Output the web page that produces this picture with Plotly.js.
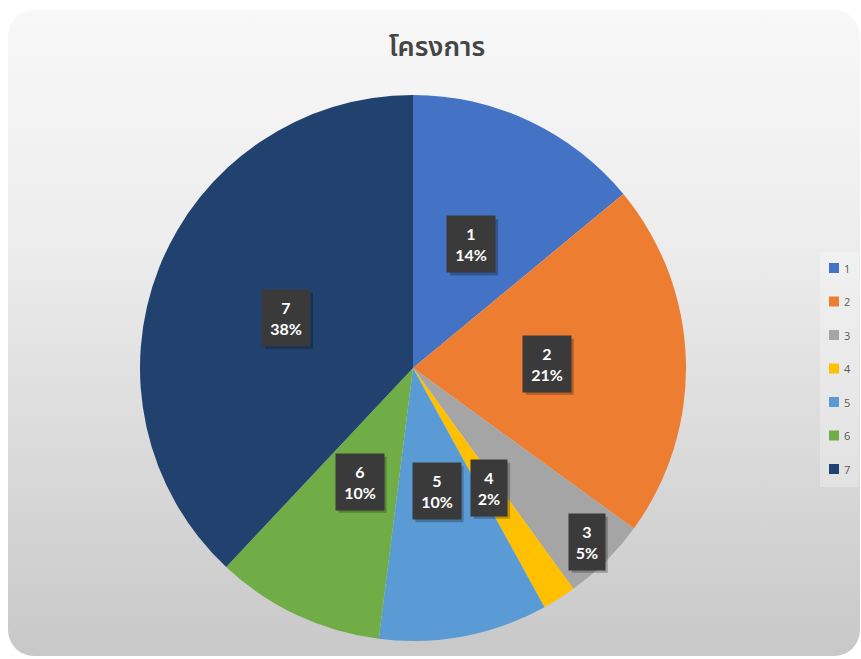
<!DOCTYPE html>
<html>
<head>
<meta charset="utf-8">
<script src="https://cdn.plot.ly/plotly-3.0.1.min.js"></script>
<style>
  html, body { margin: 0; padding: 0; background: #ffffff; width: 861px; height: 659px; overflow: hidden; }
  #frame { position: absolute; left: 8px; top: 10px; width: 852px; height: 646px; border-radius: 26px;
           background: linear-gradient(180deg, #f8f8f8 0%, #ededed 35%, #d9d9d9 70%, #c8c8c8 100%); }
  #chart { position: absolute; left: 0; top: 0; width: 861px; height: 659px; }
</style>
</head>
<body>
<div id="frame"></div>
<div id="chart"></div>
<script>
// ---- data ----
const chartTitle = "โครงการ";
const categories = ["1", "2", "3", "4", "5", "6", "7"];
const values = [14, 21, 5, 2, 10, 10, 38];
const colors = ["#4472C4", "#ED7D31", "#A5A5A5", "#FFC000", "#5B9BD5", "#70AD47", "#21416F"];

// ---- layout geometry ----
const W = 861, H = 659;
const pieDomain = { x: [140 / W, 686 / W], y: [1 - 641 / H, 1 - 95 / H] };
const labelRadius = [0.5, 0.49, 0.9, 0.52, 0.46, 0.46, 0.5];
const boxH = 56;

const cx = (pieDomain.x[0] + pieDomain.x[1]) / 2 * W;
const cy = (1 - (pieDomain.y[0] + pieDomain.y[1]) / 2) * H;
const R = Math.min((pieDomain.x[1] - pieDomain.x[0]) * W, (pieDomain.y[1] - pieDomain.y[0]) * H) / 2;

const total = values.reduce((a, b) => a + b, 0);
const annotations = [];
const shapes = [];
let cum = 0;
values.forEach((v, i) => {
  const mid = (cum + v / 2) / total;
  cum += v;
  const th = mid * 2 * Math.PI;
  const r = R * labelRadius[i];
  const px = cx + r * Math.sin(th);
  const py = cy - r * Math.cos(th);
  const pct = Math.round(v / total * 100) + "%";
  const txt = categories[i] + "<br>" + pct;
  const boxW = 12 + 12 * pct.length;
  // shadow
  shapes.push({
    type: "rect", xref: "paper", yref: "paper",
    x0: (px - boxW / 2 + 3) / W, x1: (px + boxW / 2 + 3) / W,
    y0: 1 - (py + boxH / 2 + 3) / H, y1: 1 - (py - boxH / 2 + 3) / H,
    fillcolor: "rgba(0,0,0,0.25)", line: { width: 0 }
  });
  annotations.push({
    xref: "paper", yref: "paper", x: px / W, y: 1 - py / H,
    text: txt, showarrow: false, xanchor: "center", yanchor: "middle",
    width: boxW, height: boxH,
    font: { family: "Lato, 'Open Sans', sans-serif", size: 16, color: "#ffffff", weight: "bold" },
    bgcolor: "#3a3a3a", borderpad: 0
  });
});

// ---- custom legend ----
const legX = 829, legTop = 268, legStep = 33.5, sw = 10;
shapes.push({
  type: "rect", xref: "paper", yref: "paper",
  x0: 820 / W, x1: 859 / W, y0: 1 - 487 / H, y1: 1 - 252 / H,
  fillcolor: "rgba(255,255,255,0.28)", line: { width: 0 }, layer: "below"
});
categories.forEach((c, i) => {
  const yc = legTop + i * legStep;
  shapes.push({
    type: "rect", xref: "paper", yref: "paper",
    x0: legX / W, x1: (legX + sw) / W, y0: 1 - (yc + sw / 2) / H, y1: 1 - (yc - sw / 2) / H,
    fillcolor: colors[i], line: { width: 0 }
  });
  annotations.push({
    xref: "paper", yref: "paper", x: (legX + sw + 3) / W, y: 1 - yc / H,
    text: c, showarrow: false, xanchor: "left", yanchor: "middle",
    font: { family: "'Open Sans', sans-serif", size: 11, color: "#595959" }
  });
});

const trace = {
  type: "pie",
  labels: categories,
  values: values,
  marker: { colors: colors, line: { width: 0 } },
  sort: false,
  direction: "clockwise",
  rotation: 0,
  textinfo: "none",
  hoverinfo: "label+percent",
  domain: pieDomain,
  showlegend: false
};

const layout = {
  width: W, height: H,
  margin: { l: 0, r: 0, t: 0, b: 0 },
  paper_bgcolor: "rgba(0,0,0,0)",
  plot_bgcolor: "rgba(0,0,0,0)",
  showlegend: false,
  title: {
    text: chartTitle,
    x: 437 / W, xref: "paper", xanchor: "center",
    y: 1 - 47 / H, yref: "container", yanchor: "middle",
    font: { family: "'Noto Sans Thai', 'Noto Sans', 'Loma', 'Garuda', sans-serif", size: 27, color: "#454545", weight: 600 }
  },
  annotations: annotations,
  shapes: shapes
};

Plotly.newPlot("chart", [trace], layout, { displayModeBar: false, staticPlot: true });
</script>
</body>
</html>
